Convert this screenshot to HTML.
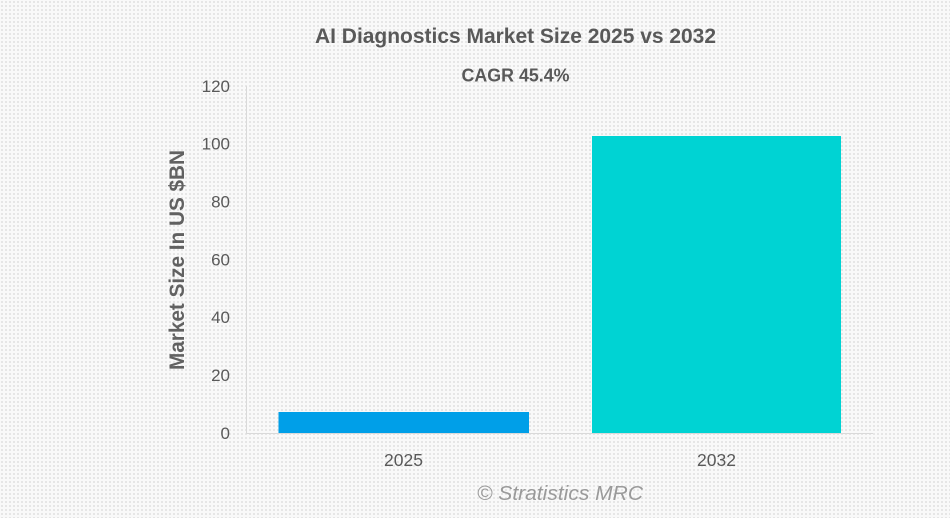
<!DOCTYPE html>
<html>
<head>
<meta charset="utf-8">
<style>
  html, body { margin: 0; padding: 0; }
  body { width: 950px; height: 518px; overflow: hidden; background: #f5f5f5; }
  svg { display: block; }
  text { font-family: "Liberation Sans", Arial, sans-serif; }
</style>
</head>
<body>
<svg width="950" height="518" viewBox="0 0 950 518" xmlns="http://www.w3.org/2000/svg">
  <defs>
    <pattern id="dots" x="0" y="0" width="4" height="4" patternUnits="userSpaceOnUse">
      <rect width="4" height="4" fill="#f9f9f9"/>
      <rect x="1" y="1" width="2" height="2" fill="#e6e6e6"/>
    </pattern>
  </defs>
  <rect width="950" height="518" fill="url(#dots)"/>

  <!-- Title -->
  <text x="515.5" y="43" text-anchor="middle" font-size="21" font-weight="bold" fill="#595959" textLength="401" lengthAdjust="spacingAndGlyphs">AI Diagnostics Market Size 2025 vs 2032</text>
  <text x="515.5" y="81.5" text-anchor="middle" font-size="18" font-weight="bold" fill="#595959" textLength="108" lengthAdjust="spacingAndGlyphs">CAGR 45.4%</text>

  <!-- Y axis title -->
  <text transform="translate(184,260) rotate(-90)" text-anchor="middle" font-size="21" font-weight="bold" fill="#616161" textLength="220" lengthAdjust="spacingAndGlyphs">Market Size In US $BN</text>

  <!-- Axes -->
  <line x1="246.5" y1="86" x2="246.5" y2="433" stroke="#d9d9d9" stroke-width="1"/>
  <line x1="246" y1="433.5" x2="873" y2="433.5" stroke="#d9d9d9" stroke-width="1"/>

  <!-- Y tick labels -->
  <g font-size="17" fill="#595959" text-anchor="end">
    <text x="230" y="439">0</text>
    <text x="230" y="381">20</text>
    <text x="230" y="323">40</text>
    <text x="230" y="265.5">60</text>
    <text x="230" y="207.5">80</text>
    <text x="230" y="149.5">100</text>
    <text x="230" y="92">120</text>
  </g>

  <!-- Bars -->
  <rect x="278.5" y="412" width="250.5" height="21" fill="#009fe8"/>
  <rect x="592" y="136" width="249" height="297" fill="#00d3d3"/>

  <!-- X labels -->
  <g font-size="17.5" fill="#595959" text-anchor="middle">
    <text x="403.5" y="466">2025</text>
    <text x="716.5" y="466">2032</text>
  </g>

  <!-- Watermark -->
  <text x="560" y="500" text-anchor="middle" font-size="20" font-style="italic" fill="#9a9a9a" textLength="166" lengthAdjust="spacingAndGlyphs">© Stratistics MRC</text>
</svg>
</body>
</html>
